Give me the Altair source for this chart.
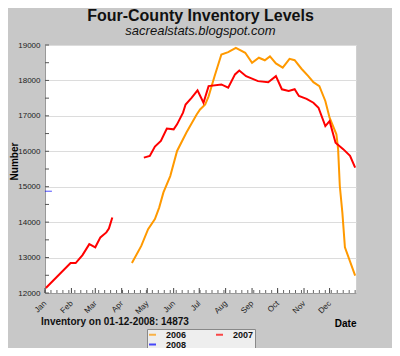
import altair as alt
import pandas as pd

# ---- data (x = day of year, y = listings) ----
days_2006 = [102, 113, 121, 129, 134, 139, 147, 155, 166, 178, 182, 188, 192, 199, 207,
             215, 224, 235, 243, 251, 258, 264, 271, 279, 287, 293, 301, 309, 315, 322,
             329, 334, 342, 344, 346, 349, 352, 364]
vals_2006 = [12845, 13330, 13800, 14085, 14410, 14840, 15300, 16010, 16530, 17040, 17180,
             17320, 17550, 18120, 18730, 18800, 18920, 18780, 18500, 18640, 18570, 18680,
             18480, 18360, 18610, 18570, 18330, 18120, 17950, 17840, 17420, 16950, 16480,
             16060, 15020, 14270, 13290, 12490]

days_2007_a = [1, 30, 36, 44, 52, 59, 65, 72, 75, 79]
vals_2007_a = [12140, 12845, 12845, 13070, 13380, 13290, 13570, 13710, 13820, 14130]

days_2007_b = [116, 123, 129, 136, 143, 151, 155, 162, 165, 172, 179, 186, 192, 207, 215,
               223, 228, 236, 250, 262, 271, 278, 286, 293, 298, 307, 315, 321, 329, 334,
               341, 350, 358, 364]
vals_2007_b = [15822, 15868, 16132, 16290, 16640, 16620, 16760, 17090, 17320, 17510, 17720,
               17370, 17840, 17887, 17795, 18170, 18280, 18120, 17980, 17950, 18120, 17750,
               17700, 17750, 17560, 17480, 17370, 17230, 16710, 16850, 16240, 16060, 15870,
               15540]

days_2008 = [4]
vals_2008 = [14873]

series_names = ["2006", "2007", "2008"]
series_colors = ["#FF9900", "#FF0000", "#0000FF"]

month_starts = [0, 31, 59, 90, 120, 151, 181, 212, 243, 273, 304, 334]
month_names = ["Jan", "Feb", "Mar", "Apr", "May", "Jun", "Jul", "Aug", "Sep", "Oct", "Nov", "Dec"]

y_major = list(range(12000, 19001, 1000))
y_minor = list(range(12000, 19001, 500))
week_ticks = list(range(0, 365, 7))

note_text = "Inventory on 01-12-2008: 14873"

# ---- tables ----
rows = []
for d, v in zip(days_2006, vals_2006):
    rows.append({"day": d, "value": v, "year": "2006", "seg": "2006"})
for d, v in zip(days_2007_a, vals_2007_a):
    rows.append({"day": d, "value": v, "year": "2007", "seg": "2007a"})
for d, v in zip(days_2007_b, vals_2007_b):
    rows.append({"day": d, "value": v, "year": "2007", "seg": "2007b"})
lines_df = pd.DataFrame(rows)
df08 = pd.DataFrame({"day": days_2008, "value": vals_2008, "year": ["2008"] * len(days_2008)})

FONT = "Liberation Sans"
W, H = 311, 248

xscale = alt.Scale(domain=[0, 365], nice=False, zero=False)
yscale = alt.Scale(domain=[12000, 19000], nice=False, zero=False)
cscale = alt.Scale(domain=series_names, range=series_colors)

label_expr = "[" + ",".join("'%s'" % m for m in month_names) + "][indexof([" + \
    ",".join(str(m) for m in month_starts) + "], datum.value)]"

x_axis = alt.Axis(values=month_starts, labelExpr=label_expr, labelAngle=-45,
                  labelAlign="right", labelBaseline="middle", labelPadding=9,
                  labelFontSize=8, labelFont=FONT, labelColor="#222",
                  labelOverlap=False, labelBound=False, labelFlush=False,
                  ticks=False, grid=False, domainColor="#999",
                  title="Date", titleFont=FONT, titleFontSize=10, titleFontWeight="bold",
                  titleAnchor="end", titleAlign="right", titleX=W, titleY=33,
                  titleBaseline="alphabetic")
y_axis = alt.Axis(values=y_major, format="d", labelFontSize=8, labelFont=FONT,
                  labelColor="#222", labelOverlap=False, labelBound=False, labelFlush=False,
                  labelPadding=5, ticks=False, grid=True, gridColor="#dcdcdc",
                  domainColor="#999",
                  title="Number", titleFont=FONT, titleFontSize=10, titleFontWeight="bold",
                  titleX=-28, titleY=116, titleBaseline="alphabetic", titleAngle=270,
                  titleAlign="center")

legend = alt.Legend(title=None, orient="none", legendX=102, legendY=284, columns=2,
                    direction="horizontal", symbolType="stroke", symbolSize=49,
                    symbolStrokeWidth=2, labelFont=FONT, labelFontSize=9,
                    labelFontWeight="bold", labelColor="#111", columnPadding=25,
                    rowPadding=0, padding=1, fillColor="#eeeeee", strokeColor="#888",
                    labelOffset=9)

X = lambda f: alt.X(f, scale=xscale, axis=x_axis)
Y = lambda f: alt.Y(f, scale=yscale, axis=y_axis)

lines = alt.Chart(lines_df).mark_line(strokeWidth=2, clip=False).encode(
    x=X("day:Q"),
    y=Y("value:Q"),
    color=alt.Color("year:N", scale=cscale, legend=legend),
    detail="seg:N",
)

pt08 = alt.Chart(df08).mark_tick(orient="horizontal", size=7, thickness=1).encode(
    x=X("day:Q"),
    y=Y("value:Q"),
    color=alt.Color("year:N", scale=cscale, legend=legend),
)

xt = alt.Chart(pd.DataFrame({"day": week_ticks})).mark_rule(color="#666", strokeWidth=1).encode(
    x=X("day:Q"),
    y=alt.value(H),
    y2=alt.value(H - 3),
)
xmt = alt.Chart(pd.DataFrame({"day": month_starts})).mark_rule(color="#444", strokeWidth=1).encode(
    x=X("day:Q"),
    y=alt.value(H),
    y2=alt.value(H - 5),
)
yt = alt.Chart(pd.DataFrame({"value": y_minor})).mark_rule(color="#555", strokeWidth=1).encode(
    y=Y("value:Q"),
    x=alt.value(0),
    x2=alt.value(4),
)

note = alt.Chart(pd.DataFrame({"t": [note_text]})).mark_text(
    align="left", baseline="alphabetic", font=FONT, fontSize=10, fontWeight="bold",
    color="#111").encode(x=alt.value(-4), y=alt.value(280), text="t:N")

chart = alt.layer(lines, pt08, xt, xmt, yt, note).properties(
    width=W, height=H,
    autosize=alt.AutoSizeParams(type="none"),
    padding={"left": 37, "top": 37, "right": 36, "bottom": 55},
    background="#c8c8c8",
    title=alt.TitleParams(
        text="Four-County Inventory Levels",
        subtitle="sacrealstats.blogspot.com",
        font=FONT, fontSize=16, fontWeight="bold", color="#111",
        subtitleFont=FONT, subtitleFontSize=13, subtitleFontStyle="italic",
        subtitleColor="#111", subtitlePadding=1, anchor="middle", offset=3,
    ),
).configure_view(fill="white", stroke="#d0d0d0", strokeWidth=1)

chart.save("out.html", embed_options={"renderer": "svg", "actions": False})
